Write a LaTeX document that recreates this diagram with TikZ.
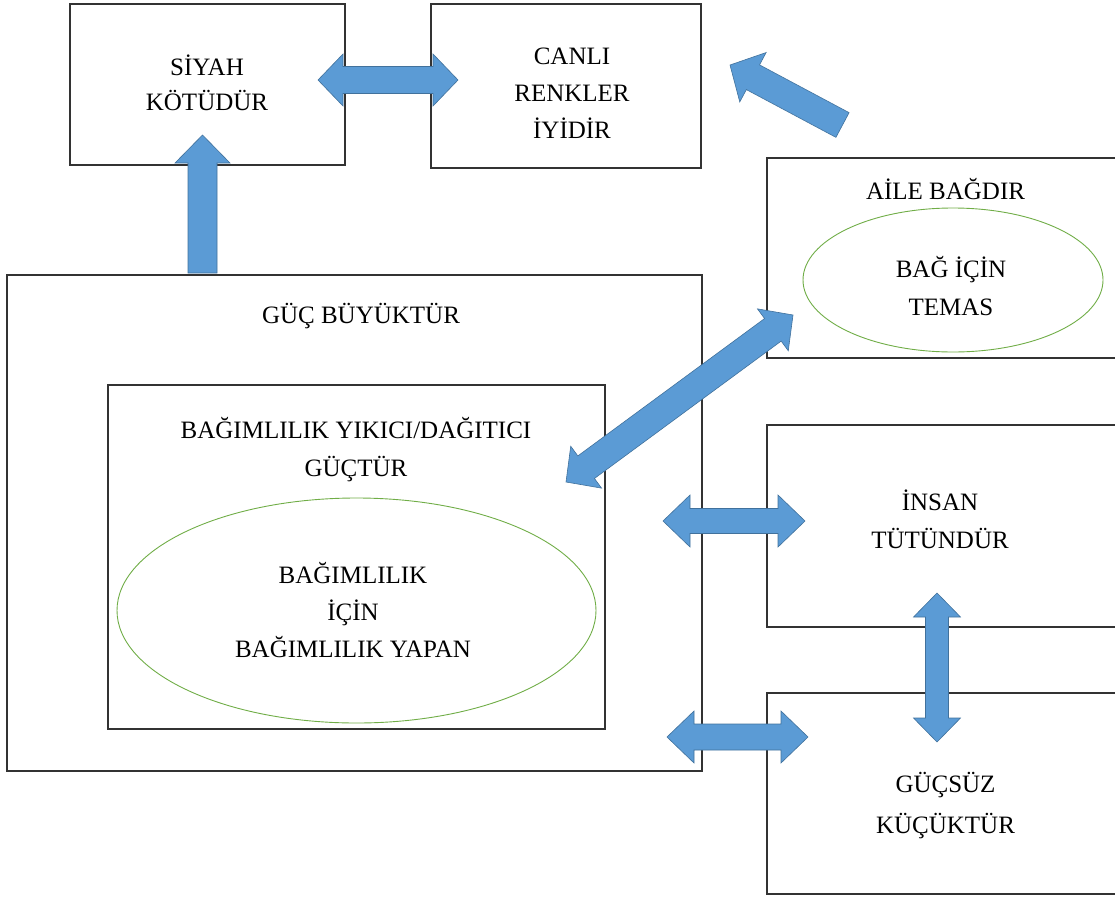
\documentclass[tikz,border=0pt]{standalone}
\usepackage{fontspec}
\setmainfont{Liberation Serif}
\usetikzlibrary{calc,shapes.geometric}

\definecolor{arrowblue}{RGB}{91,155,213}
\definecolor{arrowedge}{RGB}{65,113,156}
\definecolor{ovalgreen}{RGB}{112,173,71}

% block arrows between two named points: ends, head length, half shaft, half head
\newcommand\dblblock[5]{%
  \draw[blockarrow] (#1)
    -- ($(#1)!#3!(#2)!#5!90:(#2)$) -- ($(#1)!#3!(#2)!#4!90:(#2)$)
    -- ($(#2)!#3!(#1)!#4!-90:(#1)$) -- ($(#2)!#3!(#1)!#5!-90:(#1)$)
    -- (#2)
    -- ($(#2)!#3!(#1)!#5!90:(#1)$) -- ($(#2)!#3!(#1)!#4!90:(#1)$)
    -- ($(#1)!#3!(#2)!#4!-90:(#2)$) -- ($(#1)!#3!(#2)!#5!-90:(#2)$)
    -- cycle;}
\newcommand\oneblock[5]{%
  \draw[blockarrow] (#2)
    -- ($(#2)!#3!(#1)!#5!90:(#1)$) -- ($(#2)!#3!(#1)!#4!90:(#1)$)
    -- ($(#1)!#4!-90:(#2)$) -- ($(#1)!#4!90:(#2)$)
    -- ($(#2)!#3!(#1)!#4!-90:(#1)$) -- ($(#2)!#3!(#1)!#5!-90:(#1)$)
    -- cycle;}

\begin{document}
\begin{tikzpicture}[x=1pt,y=-1pt,
  box/.style={draw=black!80, line width=1.3pt, inner sep=0pt},
  oval/.style={draw=ovalgreen, line width=0.9pt, ellipse, inner sep=0pt},
  txt/.style={align=center, anchor=base, inner sep=0pt, font=\fontsize{25}{37}\selectfont},
  blockarrow/.style={fill=arrowblue, draw=arrowedge, line width=0.6pt}]
\useasboundingbox (0,0) rectangle (1115,899);
\clip (0,0) rectangle (1115,899);

% boxes
\node[box, minimum width=275pt, minimum height=161pt] (1) at (207.5,84.5) {};
\node[box, minimum width=270pt, minimum height=164pt] (2) at (566,86) {};
\node[box, minimum width=370pt, minimum height=200pt] (3) at (952,258) {};
\node[box, minimum width=695pt, minimum height=496pt] (4) at (354.5,523) {};
\node[box, minimum width=497pt, minimum height=344pt] (5) at (356.5,557) {};
\node[box, minimum width=370pt, minimum height=202pt] (6) at (952,526) {};
\node[box, minimum width=370pt, minimum height=201pt] (7) at (952,793.5) {};
\node[oval, minimum width=300pt, minimum height=144pt] (8) at (953,280) {};
\node[oval, minimum width=479pt, minimum height=225pt] (9) at (356.5,610.5) {};

% texts (base = last line)
\node[txt, font=\fontsize{25}{35}\selectfont] (1t) at (207,110) {SİYAH\\KÖTÜDÜR};
\node[txt] (2t) at (572,138) {CANLI\\RENKLER\\İYİDİR};
\node[txt] (3t) at (945.5,199) {AİLE BAĞDIR};
\node[txt, font=\fontsize{25}{38}\selectfont] (8t) at (951,315) {BAĞ İÇİN\\TEMAS};
\node[txt] (4t) at (361,323) {GÜÇ BÜYÜKTÜR};
\node[txt, font=\fontsize{25}{38}\selectfont] (5t) at (356,476) {BAĞIMLILIK YIKICI/DAĞITICI\\GÜÇTÜR};
\node[txt] (9t) at (353,657) {BAĞIMLILIK\\İÇİN\\BAĞIMLILIK YAPAN};
\node[txt, font=\fontsize{25}{38}\selectfont] (6t) at (940,548) {İNSAN\\TÜTÜNDÜR};
\node[txt, font=\fontsize{25}{41}\selectfont] (7t) at (945.5,833) {GÜÇSÜZ\\KÜÇÜKTÜR};

% arrow ends
\coordinate (a1) at (202.5,273);
\coordinate (a2) at (202.5,135);
\coordinate (b1) at (318,80);
\coordinate (b2) at (458,80);
\coordinate (c1) at (842.5,125);
\coordinate (c2) at (730,65);
\coordinate (d1) at (566,482);
\coordinate (d2) at (793,315);
\coordinate (e1) at (663,521);
\coordinate (e2) at (805,521);
\coordinate (f1) at (667,737);
\coordinate (f2) at (808,737);
\coordinate (g1) at (937,593);
\coordinate (g2) at (937,742);

\oneblock{a1}{a2}{28pt}{14.5pt}{27.5pt}
\dblblock{b1}{b2}{25pt}{13.5pt}{26pt}
\oneblock{c1}{c2}{26pt}{14pt}{28pt}
\dblblock{d1}{d2}{25pt}{14pt}{26pt}
\dblblock{e1}{e2}{27pt}{12.5pt}{26pt}
\dblblock{f1}{f2}{27pt}{13pt}{26pt}
\dblblock{g1}{g2}{24pt}{11.5pt}{23.5pt}
\end{tikzpicture}
\end{document}
